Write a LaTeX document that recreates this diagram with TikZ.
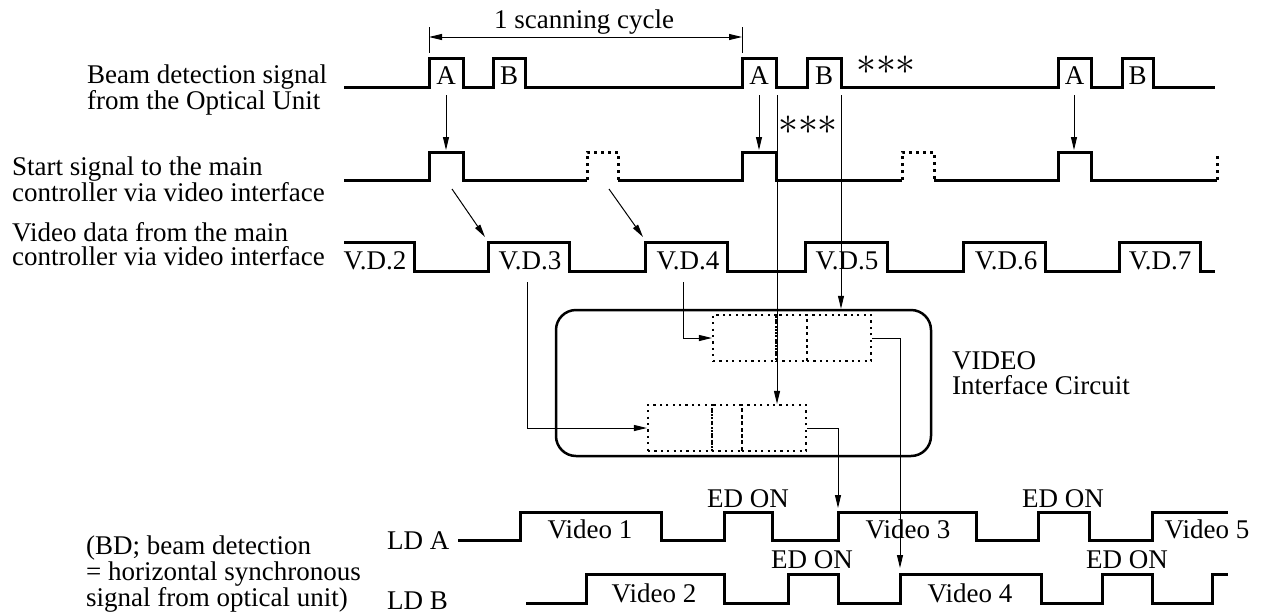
\documentclass[tikz,border=0pt]{standalone}
\usepackage{fontspec}
\setmainfont{Liberation Serif}
\usetikzlibrary{arrows.meta}

\begin{document}
\begin{tikzpicture}[x=1pt,y=-1pt,>={Triangle[length=13pt,width=6pt]},
        font=\fontsize{27}{24}\selectfont]
        \tikzstyle{wave}=[line width=3pt,line join=miter]
        \tikzstyle{ghost}=[line width=3pt,dash pattern=on 3pt off 4pt]
        \tikzstyle{sig}=[line width=1pt]
        \tikzstyle{cell}=[draw,line width=2.2pt,dash pattern=on 2.2pt off 4.2pt,minimum height=46pt,inner sep=0pt]
        \tikzstyle{iobox}=[draw,line width=2.5pt,rounded corners=20pt,minimum width=375pt,minimum height=146pt]
        \tikzstyle{lbl}=[anchor=north west,align=left,inner sep=0pt]
        \tikzstyle{stars}=[inner sep=0pt]
        \useasboundingbox (0,0) rectangle (1262,614);

        % signal names
        \node[lbl] (bdname) at (87,65)  {Beam detection signal\\from the Optical Unit};
        \node[lbl] (stname) at (12,157) {Start signal to the main\\controller via video interface};
        \node[lbl] (vdname) at (12,222) {Video data from the main\\controller via video interface};
        \node[lbl,font=\fontsize{27}{21.5}\selectfont] (bdnote) at (86,536)
              {(BD; beam detection\\= horizontal synchronous\\signal from optical unit)};
        \node[anchor=base west,inner sep=0pt] (ldAname) at (387,549) {LD A};
        \node[anchor=base west,inner sep=0pt] (ldBname) at (387,609) {LD B};

        % scanning cycle
        \draw[sig] (429,27) -- (429,53);
        \draw[sig] (742,27) -- (742,53);
        \coordinate (cycL) at (429,37);
        \coordinate (cycR) at (742,37);
        \draw[sig,<->] (cycL) -- (cycR);
        \node[anchor=base] (cyc) at (584,28) {1 scanning cycle};

        % beam detection signal
        \draw[wave] (344,87) -| (429,58) -| (463,87) -| (493,58) -| (525,87) -| (742,58) -| (776,87)
              -| (807,58) -| (841,87) -| (1058,58) -| (1091,87) -| (1122,58) -| (1153,87) -- (1215,87);
        \node[anchor=base] (A1) at (446,84)    {A};
        \node[anchor=base] (B1) at (509,84)    {B};
        \node[anchor=base] (A2) at (759,84)    {A};
        \node[anchor=base] (B2) at (824,84)    {B};
        \node[anchor=base] (A3) at (1074.5,84) {A};
        \node[anchor=base] (B3) at (1137.5,84) {B};
        \node[stars] (starsA) at (886,65)  {\scalebox{1.6}{${\ast}{\ast}{\ast}$}};
        \node[stars] (starsB) at (808,125) {\scalebox{1.6}{${\ast}{\ast}{\ast}$}};

        % start signal
        \draw[wave]  (344,180) -| (429,152) -| (463,180) -- (587,180);
        \draw[ghost] (587,180) |- (618,152) -- (618,180);
        \draw[wave]  (618,180) -| (742,152) -| (776,180) -- (902,180);
        \draw[ghost] (902,180) |- (934,152) -- (934,180);
        \draw[wave]  (934,180) -| (1058,152) -| (1091,180) -- (1217,180);
        \draw[ghost] (1217,180) -- (1217,155);

        % video data
        \draw[wave] (344,242) -| (414,271) -| (488,242) -| (569,271) -| (645,242) -| (727,271) -| (805,242)
              -| (887,271) -| (963,242) -| (1045,271) -| (1119,242) -| (1200,271) -- (1215,271);
        \node[anchor=base] (vd2) at (375,269)  {V.D.2};
        \node[anchor=base] (vd3) at (530,269)  {V.D.3};
        \node[anchor=base] (vd4) at (688,269)  {V.D.4};
        \node[anchor=base] (vd5) at (847,269)  {V.D.5};
        \node[anchor=base] (vd6) at (1006,269) {V.D.6};
        \node[anchor=base] (vd7) at (1160,269) {V.D.7};

        % video interface circuit
        \node[iobox] (io) at (743.5,383) {};
        \node[cell,minimum width=63pt] (u1) at (744.5,338) {};
        \node[cell,minimum width=31pt] (u2) at (791.5,338) {};
        \node[cell,minimum width=64pt] (u3) at (839,338)   {};
        \node[cell,minimum width=64pt] (l1) at (680,428)   {};
        \node[cell,minimum width=30pt] (l2) at (727,428)   {};
        \node[cell,minimum width=64pt] (l3) at (774,428)   {};
        \node[lbl,font=\fontsize{27}{25}\selectfont] (ioname) at (952,351) {VIDEO\\Interface Circuit};

        % LD A / LD B
        \draw[wave] (458,540) -| (520,512) -| (661,540) -| (724,512) -| (772,540) -| (838,512)
              -| (976,540) -| (1038,512) -| (1089,540) -| (1152,512) -- (1228,512);
        \draw[wave] (526,603) -| (586,574) -| (724,603) -| (788,574) -| (838,603) -| (900,574)
              -| (1041,603) -| (1102,574) -| (1152,603) -| (1212,574) -- (1228,574);
        \node[anchor=base] (v1)  at (590,538)  {Video 1};
        \node[anchor=base] (v2)  at (654,602)  {Video 2};
        \node[anchor=base] (v3)  at (908,538)  {Video 3};
        \node[anchor=base] (v4)  at (970,602)  {Video 4};
        \node[anchor=base] (v5)  at (1207,538) {Video 5};
        \node[anchor=base] (edA1) at (748,507)  {ED ON};
        \node[anchor=base] (edB1) at (812,568)  {ED ON};
        \node[anchor=base] (edA2) at (1063,507) {ED ON};
        \node[anchor=base] (edB2) at (1127,568) {ED ON};

        % connectors
        \coordinate (a1dn) at (446,95);   \coordinate (s1up) at (446,150);
        \coordinate (a2dn) at (759,95);   \coordinate (s2up) at (759,150);
        \coordinate (a3dn) at (1074,95);  \coordinate (s3up) at (1074,150);
        \coordinate (st1)  at (452,189);  \coordinate (vd3up) at (485,237);
        \coordinate (st2)  at (609,189);  \coordinate (vd4up) at (643,237);
        \coordinate (a2end) at (777,95);
        \coordinate (b2end) at (841,95);
        \coordinate (vd3dn) at (527,282);
        \coordinate (vd4dn) at (683,282);
        \coordinate (ldArise) at (838,508);
        \coordinate (ldBrise) at (900,568);

        \draw[sig,->] (a1dn) -- (s1up);
        \draw[sig,->] (a2dn) -- (s2up);
        \draw[sig,->] (a3dn) -- (s3up);
        \draw[sig,->] (st1) -- (vd3up);
        \draw[sig,->] (st2) -- (vd4up);
        \draw[sig,->] (a2end) -- (a2end |- l3.north);
        \draw[sig,->] (b2end) -- (b2end |- io.north);
        \draw[sig,->] (vd4dn) |- (u1.west);
        \draw[sig,->] (vd3dn) |- (l1.west);
        \draw[sig,->] (u3.east) -| (ldBrise);
        \draw[sig,->] (l3.east) -| (ldArise);
\end{tikzpicture}
\end{document}
